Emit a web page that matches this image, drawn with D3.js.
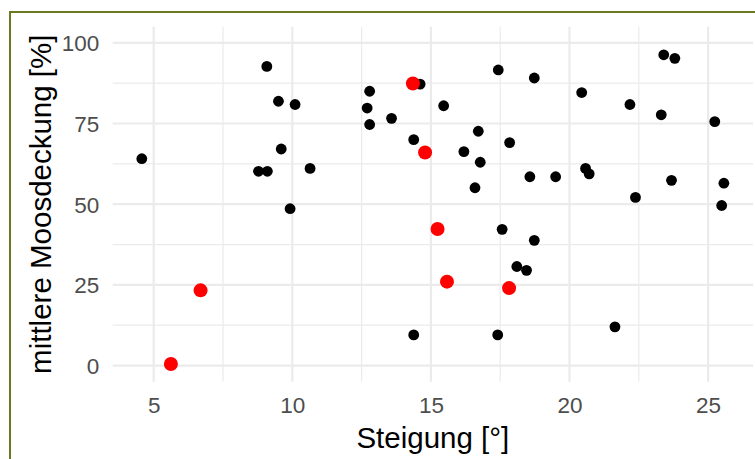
<!DOCTYPE html>
<html>
<head>
<meta charset="utf-8">
<script src="https://cdn.jsdelivr.net/npm/d3@7"></script>
<style>
  html, body { margin: 0; padding: 0; background: #fff; }
  svg { display: block; font-family: "Liberation Sans", Arial, sans-serif; }
</style>
</head>
<body>
<svg id="chart" width="755" height="459"></svg>
<script>
// Slope [°] and mean moss cover [%] per plot
const steigung = [4.57, 8.78, 9.10, 9.08, 9.50, 9.60, 10.10, 10.64, 9.92, 12.79, 12.70, 12.79,
  13.58, 14.61, 14.38, 15.46, 17.43, 18.73, 20.44, 16.71, 17.84, 16.19, 16.78, 16.59, 18.57,
  19.50, 20.58, 20.71, 23.40, 23.80, 22.18, 23.31, 25.24, 23.68, 25.57, 22.38, 25.49, 14.38,
  17.57, 18.73, 18.10, 18.45, 17.41, 21.64];
const moosdeckung = [64.1, 60.2, 60.2, 92.7, 81.9, 67.1, 80.9, 61.1, 48.6, 85.0, 79.8, 74.7,
  76.6, 87.2, 70.0, 80.5, 91.6, 89.1, 84.6, 72.6, 69.1, 66.3, 63.0, 55.1, 58.5,
  58.5, 61.1, 59.4, 96.3, 95.2, 80.9, 77.7, 75.6, 57.4, 56.5, 52.1, 49.6, 9.5,
  42.2, 38.8, 30.7, 29.5, 9.5, 12.0];

// Highlighted plots
const steigungRot = [5.62, 6.69, 14.35, 14.79, 15.24, 15.58, 17.82];
const moosdeckungRot = [0.5, 23.3, 87.4, 66.0, 42.3, 26.0, 24.0];

const xTicks = [5, 10, 15, 20, 25];
const xMinor = [7.5, 12.5, 17.5, 22.5];
const yTicks = [0, 25, 50, 75, 100];
const yMinor = [12.5, 37.5, 62.5, 87.5];

const svg = d3.select("#chart");
const W = 755, H = 459;
const panel = { left: 112.7, right: 753, top: 26.7, bottom: 381.7 };

// outer frame
svg.append("rect")
  .attr("x", 10).attr("y", 12)
  .attr("width", W + 20).attr("height", H + 20)
  .attr("fill", "#fff")
  .attr("stroke", "#6b7a1f").attr("stroke-width", 2);

// scales with 5 % padding like ggplot's default expansion
const allX = steigung.concat(steigungRot);
const xMin = d3.min(allX), xMax = d3.max(allX);
const xPad = (xMax - xMin) * 0.05;
const x = d3.scaleLinear().domain([xMin - xPad, xMax + xPad]).range([panel.left, panel.right]);
const y = d3.scaleLinear().domain([-5, 105]).range([panel.bottom, panel.top]);

const grid = svg.append("g");
grid.selectAll(".vmin").data(xMinor).join("line")
  .attr("x1", d => x(d)).attr("x2", d => x(d))
  .attr("y1", panel.top).attr("y2", panel.bottom)
  .attr("stroke", "#ebebeb").attr("stroke-width", 1.2);
grid.selectAll(".hmin").data(yMinor).join("line")
  .attr("y1", d => y(d)).attr("y2", d => y(d))
  .attr("x1", panel.left).attr("x2", panel.right)
  .attr("stroke", "#ebebeb").attr("stroke-width", 1.2);
grid.selectAll(".vmaj").data(xTicks).join("line")
  .attr("x1", d => x(d)).attr("x2", d => x(d))
  .attr("y1", panel.top).attr("y2", panel.bottom)
  .attr("stroke", "#ebebeb").attr("stroke-width", 2.2);
grid.selectAll(".hmaj").data(yTicks).join("line")
  .attr("y1", d => y(d)).attr("y2", d => y(d))
  .attr("x1", panel.left).attr("x2", panel.right)
  .attr("stroke", "#ebebeb").attr("stroke-width", 2.2);

// axes (labels only)
const xAxis = svg.append("g")
  .attr("transform", `translate(0,${panel.bottom})`)
  .call(d3.axisBottom(x).tickValues(xTicks).tickSize(0).tickPadding(0));
xAxis.select(".domain").remove();
xAxis.selectAll("text")
  .attr("dy", null).attr("y", 31)
  .attr("font-size", 22.5).attr("fill", "#4d4d4d")
  .attr("font-family", "Liberation Sans, Arial, sans-serif");

const yAxis = svg.append("g")
  .attr("transform", `translate(${panel.left},0)`)
  .call(d3.axisLeft(y).tickValues(yTicks).tickSize(0).tickPadding(0));
yAxis.select(".domain").remove();
yAxis.selectAll("text")
  .attr("x", -13.5).attr("dy", "0.36em")
  .attr("font-size", 22.5).attr("fill", "#4d4d4d")
  .attr("font-family", "Liberation Sans, Arial, sans-serif");

// points
svg.append("g").selectAll("circle")
  .data(d3.zip(steigung, moosdeckung)).join("circle")
  .attr("cx", d => x(d[0])).attr("cy", d => y(d[1]))
  .attr("r", 5.4).attr("fill", "#000");
svg.append("g").selectAll("circle")
  .data(d3.zip(steigungRot, moosdeckungRot)).join("circle")
  .attr("cx", d => x(d[0])).attr("cy", d => y(d[1]))
  .attr("r", 7).attr("fill", "#ff0000");

// axis titles
svg.append("text")
  .attr("x", (panel.left + panel.right) / 2).attr("y", 448)
  .attr("text-anchor", "middle").attr("font-size", 29.5).attr("fill", "#000")
  .text("Steigung [°]");
svg.append("text")
  .attr("transform", `translate(51,${(panel.top + panel.bottom) / 2}) rotate(-90)`)
  .attr("text-anchor", "middle").attr("font-size", 29.5).attr("fill", "#000")
  .text("mittlere Moosdeckung [%]");
</script>
</body>
</html>
